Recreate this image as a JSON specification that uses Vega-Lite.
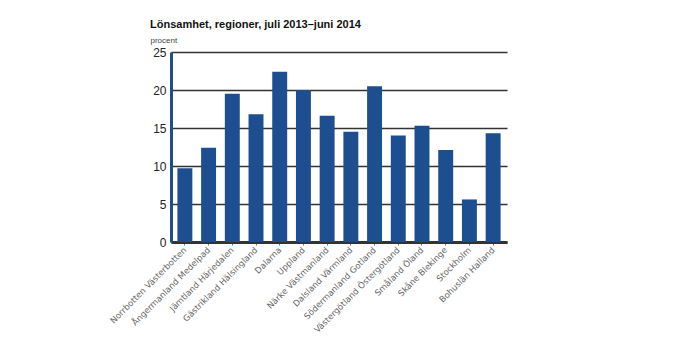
{
  "$schema": "https://vega.github.io/schema/vega-lite/v6.json",
  "width": 336,
  "height": 190,
  "autosize": "none",
  "padding": {"left": 171, "top": 52, "right": 189, "bottom": 116},
  "background": "white",
  "title": {
    "text": "Lönsamhet, regioner, juli 2013–juni 2014",
    "anchor": "start",
    "frame": "group",
    "dx": -21,
    "offset": 15,
    "dy": 9,
    "font": "Liberation Sans",
    "fontSize": 11,
    "fontWeight": "bold",
    "color": "#111111"
  },
  "data": {
    "values": [
      {"region": "Norrbotten Västerbotten", "value": 9.7},
      {"region": "Ångermanland Medelpad", "value": 12.4},
      {"region": "Jämtland Härjedalen", "value": 19.5},
      {"region": "Gästrikland Hälsingland", "value": 16.8},
      {"region": "Dalarna", "value": 22.4},
      {"region": "Uppland", "value": 20.0},
      {"region": "Närke Västmanland", "value": 16.6},
      {"region": "Dalsland Värmland", "value": 14.5},
      {"region": "Södermanland Gotland", "value": 20.5},
      {"region": "Västergötland Östergötland", "value": 14.0},
      {"region": "Småland Öland", "value": 15.3},
      {"region": "Skåne Blekinge", "value": 12.1},
      {"region": "Stockholm", "value": 5.6},
      {"region": "Bohuslän Halland", "value": 14.3}
    ]
  },
  "mark": {"type": "bar", "color": "#1d4f90"},
  "encoding": {
    "x": {
      "field": "region",
      "type": "nominal",
      "sort": null,
      "scale": {"paddingInner": 0.37, "paddingOuter": 0.27},
      "axis": {
        "title": null,
        "labelAngle": -45,
        "labelAlign": "right",
        "labelBaseline": "middle",
        "labelFont": "DejaVu Sans",
        "labelFontSize": 8.5,
        "labelColor": "#666666",
        "labelPadding": 3,
        "domainColor": "#333333",
        "domainWidth": 3,
        "tickColor": "#777777",
        "tickSize": 3,
        "tickWidth": 1,
        "labelOverlap": false
      }
    },
    "y": {
      "field": "value",
      "type": "quantitative",
      "scale": {"domain": [0, 25], "nice": false},
      "axis": {
        "values": [0, 5, 10, 15, 20, 25],
        "title": "procent",
        "titleAngle": 0,
        "titleAlign": "left",
        "titleBaseline": "bottom",
        "titleX": -21,
        "titleY": -8,
        "titleFont": "Liberation Sans",
        "titleFontSize": 8,
        "titleFontWeight": "normal",
        "titleColor": "#444444",
        "labelFont": "Liberation Sans",
        "labelFontSize": 12,
        "labelColor": "#222222",
        "labelPadding": 5,
        "ticks": false,
        "domainColor": "#1d4f90",
        "domainWidth": 3,
        "grid": true,
        "gridColor": "#333333",
        "gridWidth": 1.5
      }
    }
  },
  "config": {"view": {"stroke": null}}
}
